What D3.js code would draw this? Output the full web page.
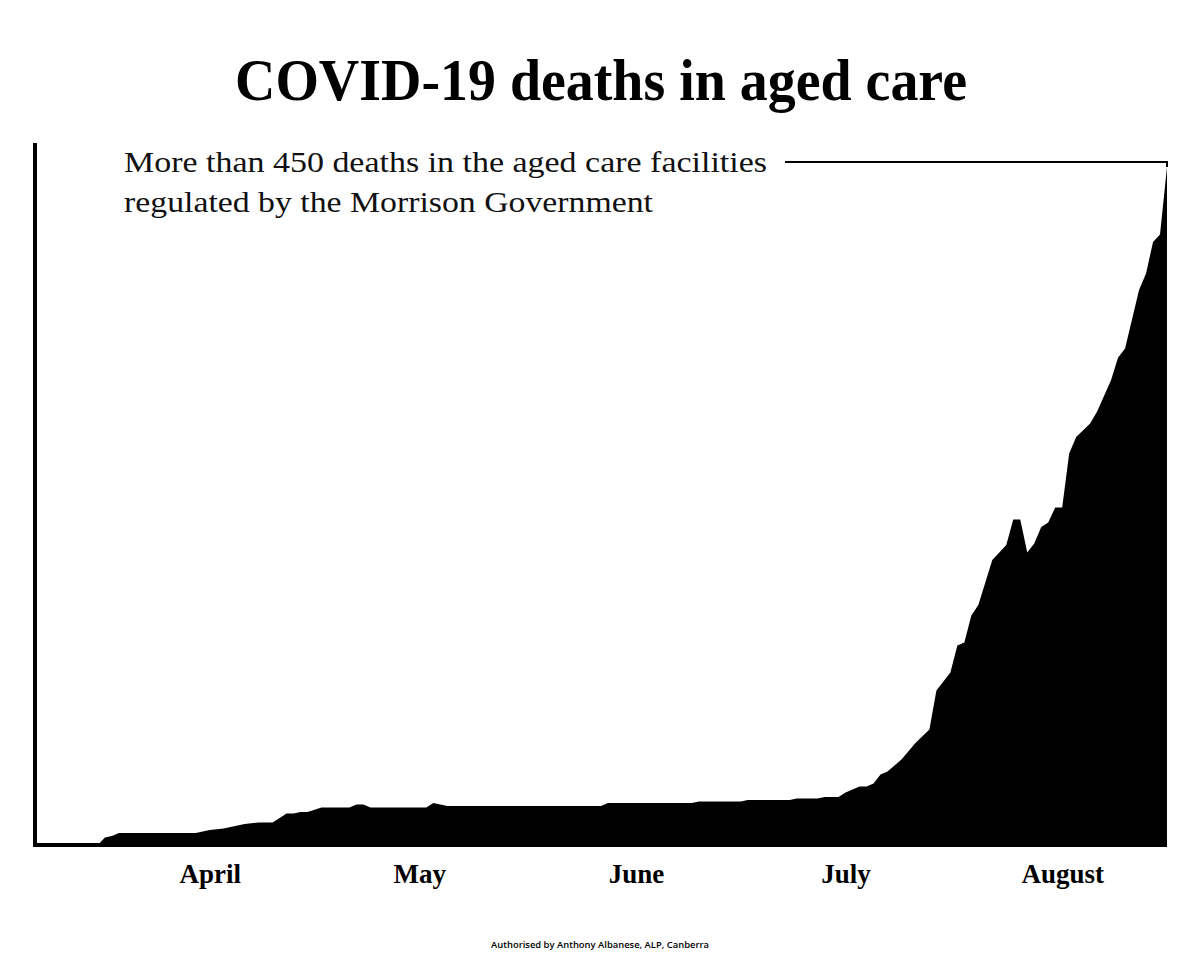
<!DOCTYPE html>
<html>
<head>
<meta charset="utf-8">
<script src="https://cdn.jsdelivr.net/npm/d3@7"></script>
<style>
  html, body { margin: 0; padding: 0; background: #fff; }
</style>
</head>
<body>
<svg id="chart" width="1200" height="960"></svg>
<script>
// Dates where the cumulative line changes, and the aged care death count at each
var dates = [
  "2020-03-21", "2020-03-30", "2020-03-31", "2020-04-01", "2020-04-02", "2020-04-13",
  "2020-04-15", "2020-04-17", "2020-04-20", "2020-04-22", "2020-04-24", "2020-04-26",
  "2020-04-27", "2020-04-28", "2020-04-29", "2020-05-01", "2020-05-05", "2020-05-06",
  "2020-05-07", "2020-05-08", "2020-05-16", "2020-05-17", "2020-05-19", "2020-06-10",
  "2020-06-11", "2020-06-23", "2020-06-24", "2020-06-30", "2020-07-01", "2020-07-07",
  "2020-07-08", "2020-07-11", "2020-07-12", "2020-07-14", "2020-07-15", "2020-07-17",
  "2020-07-18", "2020-07-19", "2020-07-20", "2020-07-21", "2020-07-23", "2020-07-25",
  "2020-07-27", "2020-07-28", "2020-07-30", "2020-07-31", "2020-08-01", "2020-08-02",
  "2020-08-03", "2020-08-04", "2020-08-05", "2020-08-06", "2020-08-07", "2020-08-08",
  "2020-08-09", "2020-08-10", "2020-08-11", "2020-08-12", "2020-08-13", "2020-08-14",
  "2020-08-15", "2020-08-16", "2020-08-17", "2020-08-19", "2020-08-20", "2020-08-22",
  "2020-08-23", "2020-08-24", "2020-08-26", "2020-08-27", "2020-08-28", "2020-08-29",
  "2020-08-30"
];
var deaths = [
  0, 0, 5, 6, 8, 8,
  10, 11, 14, 15, 15, 21,
  21, 22, 22, 25, 25, 27,
  27, 25, 25, 28, 26, 26,
  28, 28, 29, 29, 30, 30,
  31, 31, 32, 32, 35, 39,
  39, 41, 47, 49, 57, 68,
  77, 103, 115, 133, 135, 153,
  160, 175, 190, 195, 200, 217,
  217, 195, 201, 212, 215, 225,
  225, 261, 272, 281, 289, 310,
  325, 331, 370, 381, 402, 407,
  452
];

// Month labels sit in the middle of each month
var monthTicks = ["2020-04-15", "2020-05-15", "2020-06-15", "2020-07-15", "2020-08-15"];

var titleText = "COVID-19 deaths in aged care";
var noteLines = [
  "More than 450 deaths in the aged care facilities",
  "regulated by the Morrison Government"
];
var footerText = "Authorised by Anthony Albanese, ALP, Canberra";

var parseDate = d3.timeParse("%Y-%m-%d");
var data = dates.map((d, i) => ({ date: parseDate(d), value: deaths[i] }));

var svg = d3.select("#chart");

svg.append("rect")
  .attr("width", 1200)
  .attr("height", 960)
  .attr("fill", "#fff");

var xScale = d3.scaleTime()
  .domain([parseDate("2020-03-21"), parseDate("2020-08-30")])
  .range([35, 1167]);
var yScale = d3.scaleLinear().domain([0, 468]).range([845, 143]);

// Black filled area
svg.append("path")
  .datum(data)
  .attr("fill", "#000")
  .attr(
    "d",
    d3.area()
      .x((d) => xScale(d.date))
      .y0(yScale(0))
      .y1((d) => yScale(d.value))
  );

// Bottom axis with month names
var xAxis = svg.append("g")
  .attr("transform", "translate(0," + yScale(0) + ")")
  .call(
    d3.axisBottom(xScale)
      .tickValues(monthTicks.map(parseDate))
      .tickFormat(d3.timeFormat("%B"))
      .tickSize(0)
  );
xAxis.select(".domain")
  .attr("stroke", "#000")
  .attr("stroke-width", 4)
  .attr("d", "M33,0H" + xScale.range()[1]);
xAxis.selectAll("text")
  .attr("y", 38)
  .attr("dy", 0)
  .style("font-family", "'Liberation Serif', serif")
  .style("font-weight", "bold")
  .style("font-size", "27px")
  .style("fill", "#000");

// Left axis is just a plain line
var yAxis = svg.append("g")
  .attr("transform", "translate(35,0)")
  .call(d3.axisLeft(yScale).tickValues([]).tickSize(0));
yAxis.select(".domain")
  .attr("stroke", "#000")
  .attr("stroke-width", 4)
  .attr("d", "M0," + (yScale.range()[0] + 2) + "V" + yScale.range()[1]);

// Title
svg.append("text")
  .attr("x", 601)
  .attr("y", 100)
  .attr("text-anchor", "middle")
  .attr("textLength", 732)
  .attr("lengthAdjust", "spacingAndGlyphs")
  .style("font-family", "'Liberation Serif', serif")
  .style("font-weight", "bold")
  .style("font-size", "60px")
  .style("fill", "#000")
  .text(titleText);

// Annotation text
var noteWidths = [643, 529];
svg.selectAll(".note")
  .data(noteLines)
  .enter()
  .append("text")
  .attr("class", "note")
  .attr("x", 124)
  .attr("y", (d, i) => 172 + i * 40)
  .attr("textLength", (d, i) => noteWidths[i])
  .attr("lengthAdjust", "spacingAndGlyphs")
  .style("font-family", "'Liberation Serif', serif")
  .style("font-size", "29px")
  .style("fill", "#111")
  .text((d) => d);

// Leader line from the note to the last point
var last = data[data.length - 1];
svg.append("path")
  .attr("fill", "none")
  .attr("stroke", "#000")
  .attr("stroke-width", 2)
  .attr(
    "d",
    "M785,162H" + xScale(last.date) + "V" + yScale(last.value)
  );

// Footer
svg.append("text")
  .attr("x", 600)
  .attr("y", 948)
  .attr("text-anchor", "middle")
  .attr("textLength", 218)
  .attr("lengthAdjust", "spacingAndGlyphs")
  .style("font-family", "'Open Sans', sans-serif")
  .style("font-weight", 600)
  .style("font-size", "8.6px")
  .style("fill", "#000")
  .text(footerText);
</script>
</body>
</html>
